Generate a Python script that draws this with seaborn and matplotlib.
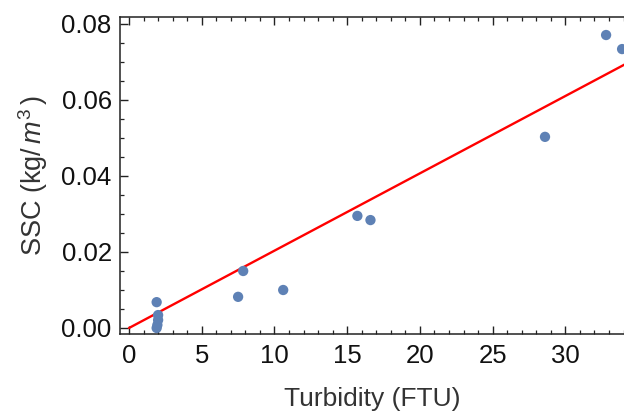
import matplotlib
matplotlib.use("Agg")
import matplotlib.pyplot as plt
import seaborn as sns
import numpy as np
import pandas as pd
from matplotlib.ticker import MultipleLocator

# Data
turbidity = [1.9, 2.0, 2.0, 1.95, 1.9, 7.5, 7.85, 10.6, 15.7, 16.6, 28.6, 32.8, 33.9]
ssc = [0.0068, 0.0034, 0.0021, 0.0008, 0.0000, 0.0082, 0.0150, 0.0100, 0.0295, 0.0284, 0.0503, 0.0771, 0.0734]
fit_slope = 0.002035
fit_intercept = 0.0
fit_range = [0.0, 34.2]

x_ticks = [0, 5, 10, 15, 20, 25, 30]
y_ticks = [0.00, 0.02, 0.04, 0.06, 0.08]
y_tick_labels = ["0.00", "0.02", "0.04", "0.06", "0.08"]

sns.set_style("ticks")
plt.rcParams["font.family"] = ["Liberation Sans", "DejaVu Sans"]
plt.rcParams["mathtext.fontset"] = "custom"
plt.rcParams["mathtext.rm"] = "Liberation Sans"
plt.rcParams["mathtext.it"] = "Liberation Sans:italic"

df = pd.DataFrame({"Turbidity": turbidity, "SSC": ssc})
fit_x = np.array(fit_range)
fit_df = pd.DataFrame({"x": fit_x, "y": fit_slope * fit_x + fit_intercept})

fig = plt.figure(figsize=(6.24, 4.16), dpi=100)
ax = fig.add_axes([120 / 624, 1 - 334 / 416, 505 / 624, 317 / 416])

sns.lineplot(data=fit_df, x="x", y="y", ax=ax, color="#ff0000", linewidth=1.7, zorder=2)
sns.scatterplot(data=df, x="Turbidity", y="SSC", ax=ax, color="#5e81b5", s=55,
                edgecolor="none", zorder=3)

ax.set_xlim(-0.62, 34.1)
ax.set_ylim(-0.00158, 0.08184)
ax.set_xticks(x_ticks)
ax.set_yticks(y_ticks)
ax.set_yticklabels(y_tick_labels)
ax.xaxis.set_minor_locator(MultipleLocator(1))
ax.yaxis.set_minor_locator(MultipleLocator(0.005))

ax.tick_params(which="both", direction="in", top=True, right=False,
               colors="#222222", labelcolor="#111111", labelsize=18.5)
ax.tick_params(axis="x", pad=7)
ax.tick_params(axis="y", pad=6)
ax.tick_params(which="major", length=5.5, width=1.0)
ax.tick_params(which="minor", length=3.2, width=0.9)
for sp in ax.spines.values():
    sp.set_visible(True)
    sp.set_linewidth(1.1)
    sp.set_color("#222222")

ax.set_xlabel("Turbidity (FTU)", fontsize=19, color="#333333", labelpad=14)
ax.set_ylabel(r"SSC (kg/$\,\mathit{m}^{3}\,$)", fontsize=19.5, color="#333333", labelpad=8)

fig.savefig("out.png", dpi=100)
